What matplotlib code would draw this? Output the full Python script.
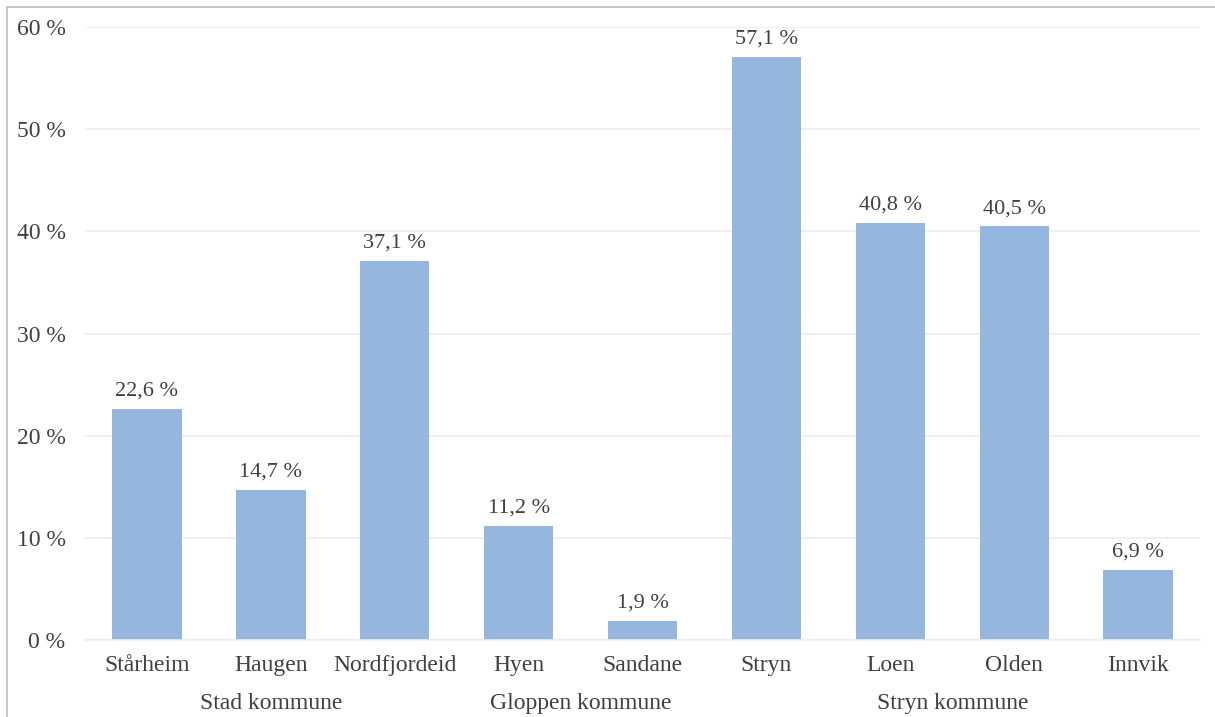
import matplotlib.pyplot as plt
from matplotlib.patches import Rectangle

places = ["Stårheim", "Haugen", "Nordfjordeid", "Hyen", "Sandane", "Stryn", "Loen", "Olden", "Innvik"]
shares = [22.6, 14.7, 37.1, 11.2, 1.9, 57.1, 40.8, 40.5, 6.9]
municipalities = ["Stad kommune", "Gloppen kommune", "Stryn kommune"]
group_sizes = [3, 2, 4]

plt.rcParams["font.family"] = ["Liberation Serif", "DejaVu Serif"]
TEXT = "#404040"
BAR = "#95B7DE"

fig = plt.figure(figsize=(12.15, 7.17), dpi=100)
ax = fig.add_axes([0.07, 0.1074, 0.9177, 0.8549])

x = range(len(places))
bars = ax.bar(x, shares, width=0.56, color=BAR, zorder=2)
ax.set_xlim(-0.5, len(places) - 0.5)
ax.set_ylim(0, 60)
ax.set_yticks(range(0, 61, 10))
ax.set_yticklabels([f"{v} %" for v in range(0, 61, 10)])
ax.set_xticks(list(x))
ax.set_xticklabels(places)
ax.tick_params(length=0, labelsize=17, labelcolor=TEXT)
ax.tick_params(axis="y", pad=14)
ax.tick_params(axis="x", pad=11)
ax.grid(axis="y", color="#EDEDED", linewidth=1.2, zorder=0)
for side in ("top", "right", "left"):
    ax.spines[side].set_visible(False)
ax.spines["bottom"].set_color("#EDEDED")
ax.spines["bottom"].set_linewidth(1.2)

for bar, value in zip(bars, shares):
    ax.text(bar.get_x() + bar.get_width() / 2, value + 0.8, f"{value:.1f} %".replace(".", ","),
            ha="center", va="bottom", fontsize=16, color=TEXT)

start = 0
for name, size in zip(municipalities, group_sizes):
    centre = start + (size - 1) / 2
    ax.text(centre, -0.103, name, transform=ax.get_xaxis_transform(), ha="center", va="center",
            fontsize=17, color=TEXT)
    start += size

fig.patches.append(Rectangle((7 / 1215, -0.1), 1.2, 1 - 7 / 717 + 0.1, transform=fig.transFigure,
                             fill=False, edgecolor="#BDBDBD", linewidth=1.2))

fig.savefig("out.png", dpi=100, facecolor="white")
